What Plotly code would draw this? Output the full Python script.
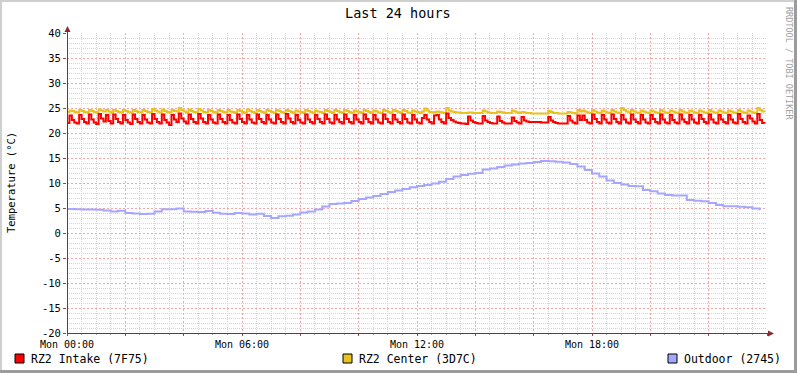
import plotly.graph_objects as go

title = "Last 24 hours"
y_title = "Temperature (°C)"
series_names = ["RZ2 Intake (7F75)", "RZ2 Center (3D7C)", "Outdoor (2745)"]
series_colors = ["#FF0000", "#E8C21E", "#A6A6FF"]
x_tick_hours = [0, 6, 12, 18]
x_tick_labels = ["Mon 00:00", "Mon 06:00", "Mon 12:00", "Mon 18:00"]
y_ticks = [-20, -15, -10, -5, 0, 5, 10, 15, 20, 25, 30, 35, 40]

# 5-minute samples, 00:00 .. 23:55
intake = [
    22.0, 23.5, 22.6, 22.1, 21.9, 23.6, 22.8, 22.2, 21.9, 23.7, 22.7, 22.1,
    21.8, 23.8, 22.9, 22.3, 23.6, 22.4, 21.9, 23.7, 22.8, 22.2, 21.9, 23.6,
    22.6, 22.1, 21.8, 23.7, 22.8, 22.2, 21.9, 23.6, 22.7, 22.1, 21.9, 23.8,
    22.8, 22.2, 21.9, 23.7, 22.6, 22.1, 21.6, 23.6, 22.7, 22.2, 23.9, 22.9,
    22.3, 21.9, 23.7, 22.8, 22.2, 21.9, 23.8, 22.9, 22.2, 21.9, 23.6, 22.7,
    22.1, 21.9, 23.7, 22.8, 22.2, 21.9, 23.6, 22.6, 22.1, 21.9, 23.7, 22.8,
    22.2, 21.9, 23.6, 22.7, 22.1, 21.9, 23.7, 22.8, 22.2, 21.9, 23.6, 22.7,
    22.1, 21.9, 23.7, 22.8, 22.2, 21.9, 23.8, 22.9, 22.2, 21.9, 23.6, 22.6,
    22.1, 21.9, 23.7, 22.7, 22.2, 21.9, 23.6, 22.8, 22.2, 21.9, 23.7, 22.8,
    22.1, 21.9, 23.6, 22.7, 22.2, 21.9, 23.7, 22.8, 22.2, 21.9, 23.6, 22.7,
    22.2, 21.9, 23.7, 22.8, 22.2, 21.9, 23.6, 22.7, 22.1, 21.9, 23.7, 22.8,
    22.2, 21.9, 23.6, 22.7, 22.2, 21.9, 23.7, 22.8, 22.1, 21.9, 23.6, 22.7,
    22.1, 21.9, 23.0, 23.6, 22.7, 22.2, 21.9, 23.5, 23.6, 22.7, 22.2, 21.9,
    23.9, 23.0, 22.6, 22.3, 22.1, 22.0, 21.9, 21.9, 21.8, 23.3, 22.5, 22.2,
    22.0, 21.9, 21.9, 23.4, 22.5, 22.2, 22.0, 21.9, 21.9, 23.3, 22.4, 22.1,
    21.9, 21.9, 21.9, 23.1, 22.4, 22.1, 21.9, 23.2, 22.5, 22.3, 22.2, 22.2,
    22.2, 22.2, 22.2, 22.1, 22.1, 22.1, 23.2, 22.5, 22.2, 22.0, 21.9, 21.9,
    21.9, 21.9, 23.4, 22.5, 22.1, 21.9, 23.5, 22.6, 23.5, 22.6, 22.1, 21.9,
    23.7, 22.8, 22.2, 21.9, 23.6, 22.7, 22.1, 21.9, 23.7, 22.8, 22.2, 21.9,
    23.6, 22.7, 22.1, 21.9, 23.7, 22.7, 22.2, 21.9, 23.6, 22.7, 22.1, 21.9,
    23.6, 22.8, 22.2, 21.9, 23.7, 22.7, 22.1, 21.9, 23.6, 22.6, 22.1, 21.9,
    23.7, 22.7, 22.2, 21.9, 23.6, 22.7, 22.1, 21.9, 23.6, 22.8, 22.2, 21.9,
    23.7, 22.7, 22.1, 21.9, 23.6, 22.7, 22.2, 21.9, 23.6, 22.7, 22.1, 21.9,
    23.8, 22.8, 22.2, 21.9, 23.5, 22.9, 22.3, 21.9, 23.8, 22.6, 22.0, 21.9,
]

center = [
    24.2, 24.5, 24.4, 24.2, 24.1, 24.6, 24.4, 24.2, 24.1, 24.6, 24.4, 24.2,
    24.1, 24.7, 24.5, 24.3, 24.6, 24.3, 24.1, 24.6, 24.4, 24.2, 24.1, 24.6,
    24.4, 24.2, 24.1, 24.6, 24.4, 24.2, 24.1, 24.6, 24.4, 24.2, 24.1, 24.8,
    24.5, 24.3, 24.1, 24.7, 24.4, 24.2, 24.1, 24.6, 24.4, 24.3, 25.0, 24.6,
    24.3, 24.1, 24.7, 24.4, 24.2, 24.1, 24.8, 24.5, 24.2, 24.1, 24.6, 24.4,
    24.2, 24.1, 24.6, 24.4, 24.2, 24.1, 24.6, 24.3, 24.2, 24.0, 24.6, 24.4,
    24.2, 24.0, 24.7, 24.4, 24.2, 24.0, 24.6, 24.4, 24.2, 24.0, 24.6, 24.4,
    24.2, 24.0, 24.6, 24.4, 24.2, 24.0, 24.6, 24.4, 24.2, 24.0, 24.5, 24.3,
    24.2, 24.0, 24.6, 24.4, 24.2, 24.0, 24.5, 24.3, 24.2, 24.0, 24.6, 24.4,
    24.2, 24.0, 24.6, 24.4, 24.2, 24.0, 24.6, 24.4, 24.2, 24.0, 24.5, 24.3,
    24.2, 24.0, 24.6, 24.4, 24.2, 24.0, 24.5, 24.3, 24.1, 24.0, 24.6, 24.4,
    24.2, 24.0, 24.6, 24.4, 24.2, 24.0, 24.6, 24.4, 24.1, 24.0, 24.5, 24.3,
    24.2, 24.0, 24.3, 24.9, 24.5, 24.2, 24.1, 24.2, 24.3, 24.2, 24.1, 24.0,
    25.0, 24.5, 24.3, 24.2, 24.1, 24.1, 24.0, 24.0, 24.0, 24.1, 24.1, 24.0,
    24.0, 24.0, 24.0, 24.5, 24.3, 24.1, 24.0, 24.0, 24.0, 24.3, 24.2, 24.1,
    24.0, 24.0, 24.0, 24.5, 24.3, 24.1, 24.0, 24.2, 24.1, 24.0, 24.0, 23.9,
    23.9, 23.9, 23.9, 23.9, 23.9, 23.9, 24.4, 24.2, 24.0, 24.0, 23.9, 23.9,
    23.9, 23.9, 24.2, 24.1, 24.0, 23.9, 24.6, 24.3, 24.5, 24.3, 24.1, 24.0,
    24.6, 24.3, 24.1, 24.0, 24.5, 24.3, 24.1, 24.0, 24.6, 24.3, 24.1, 24.0,
    25.0, 24.6, 24.3, 24.1, 24.6, 24.3, 24.1, 24.0, 24.5, 24.3, 24.1, 24.0,
    24.5, 24.3, 24.1, 24.0, 24.6, 24.3, 24.1, 24.0, 24.5, 24.3, 24.1, 24.0,
    24.6, 24.3, 24.1, 24.0, 24.5, 24.3, 24.1, 24.0, 24.5, 24.3, 24.1, 24.0,
    24.6, 24.3, 24.1, 24.0, 24.5, 24.3, 24.1, 24.0, 24.5, 24.3, 24.1, 24.0,
    24.6, 24.3, 24.1, 24.0, 24.5, 24.3, 24.1, 24.0, 25.0, 24.6, 24.3, 24.2,
]

# 15-minute samples, 00:00 .. 23:45
outdoor = [
    4.8, 4.75, 4.7, 4.7, 4.65, 4.5, 4.3, 4.45,
    4.0, 3.9, 3.8, 3.85, 4.3, 4.75, 4.75, 4.9,
    4.3, 4.25, 4.2, 4.4, 4.05, 3.85, 3.8, 4.0,
    3.9, 3.7, 3.85, 3.4, 3.0, 3.35, 3.45, 3.7,
    4.1, 4.3, 4.7, 5.3, 5.8, 5.9, 6.0, 6.4,
    6.8, 7.1, 7.4, 7.8, 8.2, 8.5, 8.8, 9.15,
    9.4, 9.6, 9.9, 10.25, 10.8, 11.3, 11.6, 11.85,
    12.0, 12.7, 12.9, 13.2, 13.5, 13.7, 13.9, 14.0,
    14.2, 14.4, 14.35, 14.25, 14.1, 13.8, 13.3, 12.6,
    11.9, 11.3, 10.5, 10.0, 9.7, 9.4, 9.35, 8.6,
    8.35, 7.9, 7.6, 7.5, 7.5, 6.6, 6.45, 6.35,
    6.0, 5.6, 5.35, 5.35, 5.25, 5.15, 4.9, 4.55,
]

W, H = 797, 373
L, R, T, B = 67, 767, 33, 333


def px(x):
    return (x - L) / (R - L)


def py(y):
    return (B - y) / (B - T)


t5 = [i * 5 / 60 for i in range(len(intake))]
t15 = [i * 15 / 60 for i in range(len(outdoor))]

fig = go.Figure()
for xs, ys, name, col in [
    (t15, outdoor, series_names[2], series_colors[2]),
    (t5, center, series_names[1], series_colors[1]),
    (t5, intake, series_names[0], series_colors[0]),
]:
    fig.add_trace(go.Scatter(x=xs, y=ys, mode="lines", name=name,
                             line=dict(color=col, width=2, shape="hv"),
                             showlegend=False, hoverinfo="skip"))

mono = "DejaVu Sans Mono"
major_grid = "#F3A8A8"
minor_grid = "#D6D6D6"
dots = "1px,1px"
major_dots = "2px,2px"

x_major = [h for h in range(0, 25, 2)]
x_major_text = [x_tick_labels[x_tick_hours.index(h)] if h in x_tick_hours else "" for h in x_major]
x_minor = [m / 2 for m in range(0, 49) if m % 4 != 0]
y_minor = [v for v in range(-20, 41) if v % 5 != 0]

fig.update_layout(
    width=W, height=H, autosize=False,
    margin=dict(l=L, r=W - R, t=T, b=H - B, pad=0),
    paper_bgcolor="white", plot_bgcolor="white",
    font=dict(family=mono, color="black"),
    xaxis=dict(range=[0, 24], tickmode="array", tickvals=x_major, ticktext=x_major_text,
               showgrid=True, gridcolor=major_grid, griddash=major_dots, gridwidth=1,
               zeroline=False, showline=False, ticks="outside", ticklen=2,
               tickcolor="#8a4a4a", tickfont=dict(size=10, family=mono),
               minor=dict(tickmode="array", tickvals=x_minor, showgrid=True,
                          gridcolor=minor_grid, griddash=dots, gridwidth=1,
                          ticks="outside", ticklen=1, tickcolor="#aaaaaa"),
               fixedrange=True),
    yaxis=dict(range=[-20, 40], tickmode="array", tickvals=y_ticks,
               ticktext=[str(v) for v in y_ticks],
               showgrid=True, gridcolor=major_grid, griddash=major_dots, gridwidth=1,
               zeroline=False, showline=False, ticks="outside", ticklen=3,
               tickcolor="#8a4a4a", tickfont=dict(size=10.5, family=mono),
               minor=dict(tickmode="array", tickvals=y_minor, showgrid=True,
                          gridcolor=minor_grid, griddash=dots, gridwidth=1),
               fixedrange=True),
    hovermode=False,
)

shapes = []
for (x0, y0, x1, y1, c) in [
    (0, 0, W, 2, "#CFCFCF"),
    (0, 0, 2, H, "#CFCFCF"),
    (W - 3, 0, W, H, "#9C9C9C"),
    (0, H - 3, W, H, "#9C9C9C"),
]:
    shapes.append(dict(type="rect", xref="paper", yref="paper",
                       x0=px(x0), x1=px(x1), y0=py(y1), y1=py(y0),
                       line=dict(width=0), fillcolor=c, layer="above"))
axis_col = "#5A4040"
arrow_col = "#8B2A2A"
shapes.append(dict(type="line", xref="paper", yref="paper",
                   x0=px(67.5), x1=px(67.5), y0=py(333), y1=py(30),
                   line=dict(color=axis_col, width=1)))
shapes.append(dict(type="line", xref="paper", yref="paper",
                   x0=px(67), x1=px(770), y0=py(333.5), y1=py(333.5),
                   line=dict(color=axis_col, width=1)))
shapes.append(dict(type="path", xref="paper", yref="paper",
                   path=f"M {px(64.5)} {py(32)} L {px(70.5)} {py(32)} L {px(67.5)} {py(26)} Z",
                   line=dict(width=0), fillcolor=arrow_col))
shapes.append(dict(type="path", xref="paper", yref="paper",
                   path=f"M {px(768)} {py(330.5)} L {px(768)} {py(336.5)} L {px(774)} {py(333.5)} Z",
                   line=dict(width=0), fillcolor=arrow_col))

annotations = []
legend_box_x = [15, 343, 668]
for bx, name, col in zip(legend_box_x, series_names, series_colors):
    shapes.append(dict(type="rect", xref="paper", yref="paper",
                       x0=px(bx), x1=px(bx + 9), y0=py(363), y1=py(354),
                       line=dict(color="black", width=1), fillcolor=col))
    annotations.append(dict(text=name, xref="paper", yref="paper",
                            x=px(bx + 14), y=py(358.5), xanchor="left", yanchor="middle",
                            showarrow=False, font=dict(size=11.5, family=mono, color="black")))

annotations.append(dict(text=title, xref="paper", yref="paper", x=px(398), y=py(13),
                        xanchor="center", yanchor="middle", showarrow=False,
                        font=dict(size=13.5, family=mono, color="black")))
annotations.append(dict(text=y_title, xref="paper", yref="paper", x=px(11), y=py(183),
                        xanchor="center", yanchor="middle", textangle=-90, showarrow=False,
                        font=dict(size=10.5, family=mono, color="black")))
annotations.append(dict(text="RRDTOOL / TOBI OETIKER", xref="paper", yref="paper",
                        x=px(789), y=py(63), xanchor="center", yanchor="middle",
                        textangle=90, showarrow=False,
                        font=dict(size=8.5, family=mono, color="#A0A0A0")))

fig.update_layout(shapes=shapes, annotations=annotations)

fig.write_html("out.html", config={"displayModeBar": False, "staticPlot": True},
               post_script="document.body.style.margin='0';")
